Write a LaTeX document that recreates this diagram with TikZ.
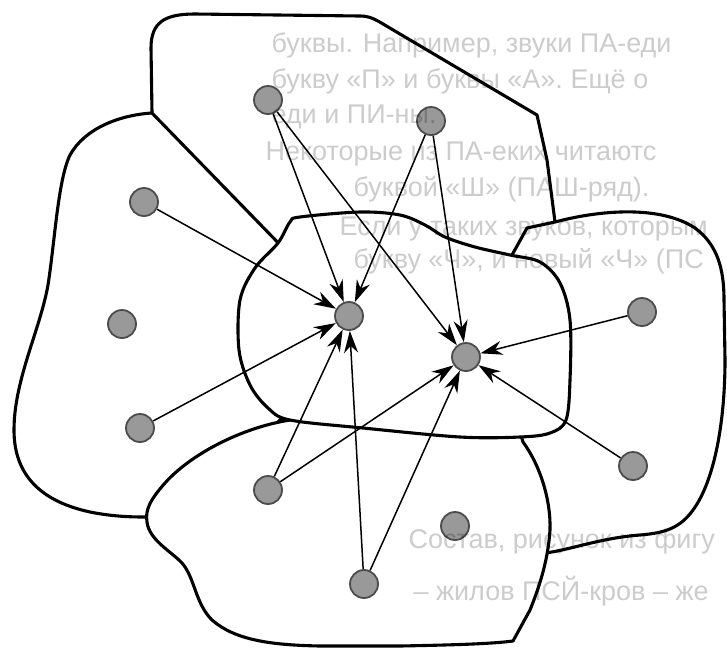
\documentclass[tikz,border=0pt]{standalone}
\usepackage{fontspec}
\setmainfont{Liberation Sans}
\usetikzlibrary{arrows.meta}
\begin{document}
\begin{tikzpicture}[x=1pt,y=-1pt,
  blob/.style={draw=black, line width=3.1pt, fill=white, line join=round},
  dot/.style={circle, fill=black!40, draw=black!70, line width=1.8pt, minimum size=28pt, inner sep=0pt},
  arr/.style={line width=1.5pt, -{Stealth[length=22pt,width=14pt,inset=7pt]}},
  bgtext/.style={anchor=base west, font=\fontsize{27}{27}\selectfont, text=black, opacity=0.2}
]
\useasboundingbox (0,0) rectangle (727,649);
\fill[white] (0,0) rectangle (727,649);

% left region
\draw[blob] (152,113) .. controls (120,115) and (85,128) .. (70,155)
  .. controls (58,180) and (55,240) .. (48,285)
  .. controls (40,330) and (14,380) .. (14,430)
  .. controls (14,470) and (35,500) .. (90,512)
  .. controls (115,517) and (135,517) .. (147,517)
  -- (200,500) -- (300,400) -- (300,250) -- (200,140) -- cycle;

% top region
\draw[blob] (152,113) -- (151,48) .. controls (151,22) and (165,14) .. (195,14)
  -- (360,16) .. controls (368,16) and (372,18) .. (378,21)
  -- (537,115) -- (547,160) -- (555,222)
  -- (545,290) -- (320,290) -- (290,255) -- cycle;

% right region
\draw[blob] (497,285) -- (512,255) -- (527,228) -- (555,222)
  .. controls (600,210) and (660,205) .. (695,228)
  .. controls (718,245) and (724,270) .. (724,300)
  -- (725,360) .. controls (725,420) and (715,480) .. (693,510)
  .. controls (680,528) and (665,533) .. (640,535)
  .. controls (600,538) and (570,550) .. (545,553)
  -- (520,500) -- (500,420) -- cycle;

% bottom region
\draw[blob] (290,420) .. controls (240,428) and (190,455) .. (165,483)
  .. controls (150,500) and (145,510) .. (147,522)
  .. controls (149,540) and (172,552) .. (182,563)
  .. controls (195,578) and (195,603) .. (212,620)
  .. controls (235,640) and (270,645) .. (320,646)
  -- (400,646) .. controls (450,645) and (490,644) .. (513,641)
  -- (530,610) .. controls (540,585) and (548,560) .. (550,530)
  .. controls (551,500) and (540,465) .. (523,442)
  -- (515,415) -- (300,410) -- cycle;

% central region
\draw[blob] plot[smooth cycle, tension=0.55] coordinates {(300,217) (360,212) (400,215) (425,225) (445,237) (475,247) (510,255) (540,262) (560,283) (570,320) (570,380) (566,420) (550,433) (520,437) (460,437) (363,428) (290,420) (268,408) (250,385) (239,350) (240,300) (255,268) (278,243) (290,222)};

% dots
\node[dot] (a) at (268,100) {};
\node[dot] (b) at (431,121) {};
\node[dot] (c) at (144,202) {};
\node[dot] (d) at (122,324) {};
\node[dot] (e) at (349,316) {};
\node[dot] (f) at (466,357) {};
\node[dot] (g) at (642,312) {};
\node[dot] (h) at (140,428) {};
\node[dot] (i) at (268,490) {};
\node[dot] (j) at (633,466) {};
\node[dot] (k) at (455,526) {};
\node[dot] (l) at (364,584) {};

% arrows
\draw[arr] (a) -- (e);
\draw[arr] (a) -- (f);
\draw[arr] (b) -- (e);
\draw[arr] (b) -- (f);
\draw[arr] (c) -- (e);
\draw[arr] (h) -- (e);
\draw[arr] (i) -- (e);
\draw[arr] (i) -- (f);
\draw[arr] (l) -- (e);
\draw[arr] (l) -- (f);
\draw[arr] (g) -- (f);
\draw[arr] (j) -- (f);

% faint show-through text
\node[bgtext] (t1) at (268,52) {буквы. Например, звуки ПА-еди};
\node[bgtext] (t2) at (268,88) {букву «П» и буквы «А». Ещё о};
\node[bgtext] (t3) at (268,123) {еди и ПИ-ны.};
\node[bgtext] (t4) at (262,160) {Некоторые из ПА-еких читаютс};
\node[bgtext] (t5) at (350,196) {буквой «Ш» (ПАШ-ряд).};
\node[bgtext] (t6) at (336,235) {Если у таких звуков, которым};
\node[bgtext] (t7) at (350,268) {букву «Ч», и новый «Ч» (ПС};
\node[bgtext] (t8) at (405,548) {Состав, рисунок из фигу};
\node[bgtext] (t9) at (410,600) {– жилов ПСЙ-кров – же};
\end{tikzpicture}
\end{document}
